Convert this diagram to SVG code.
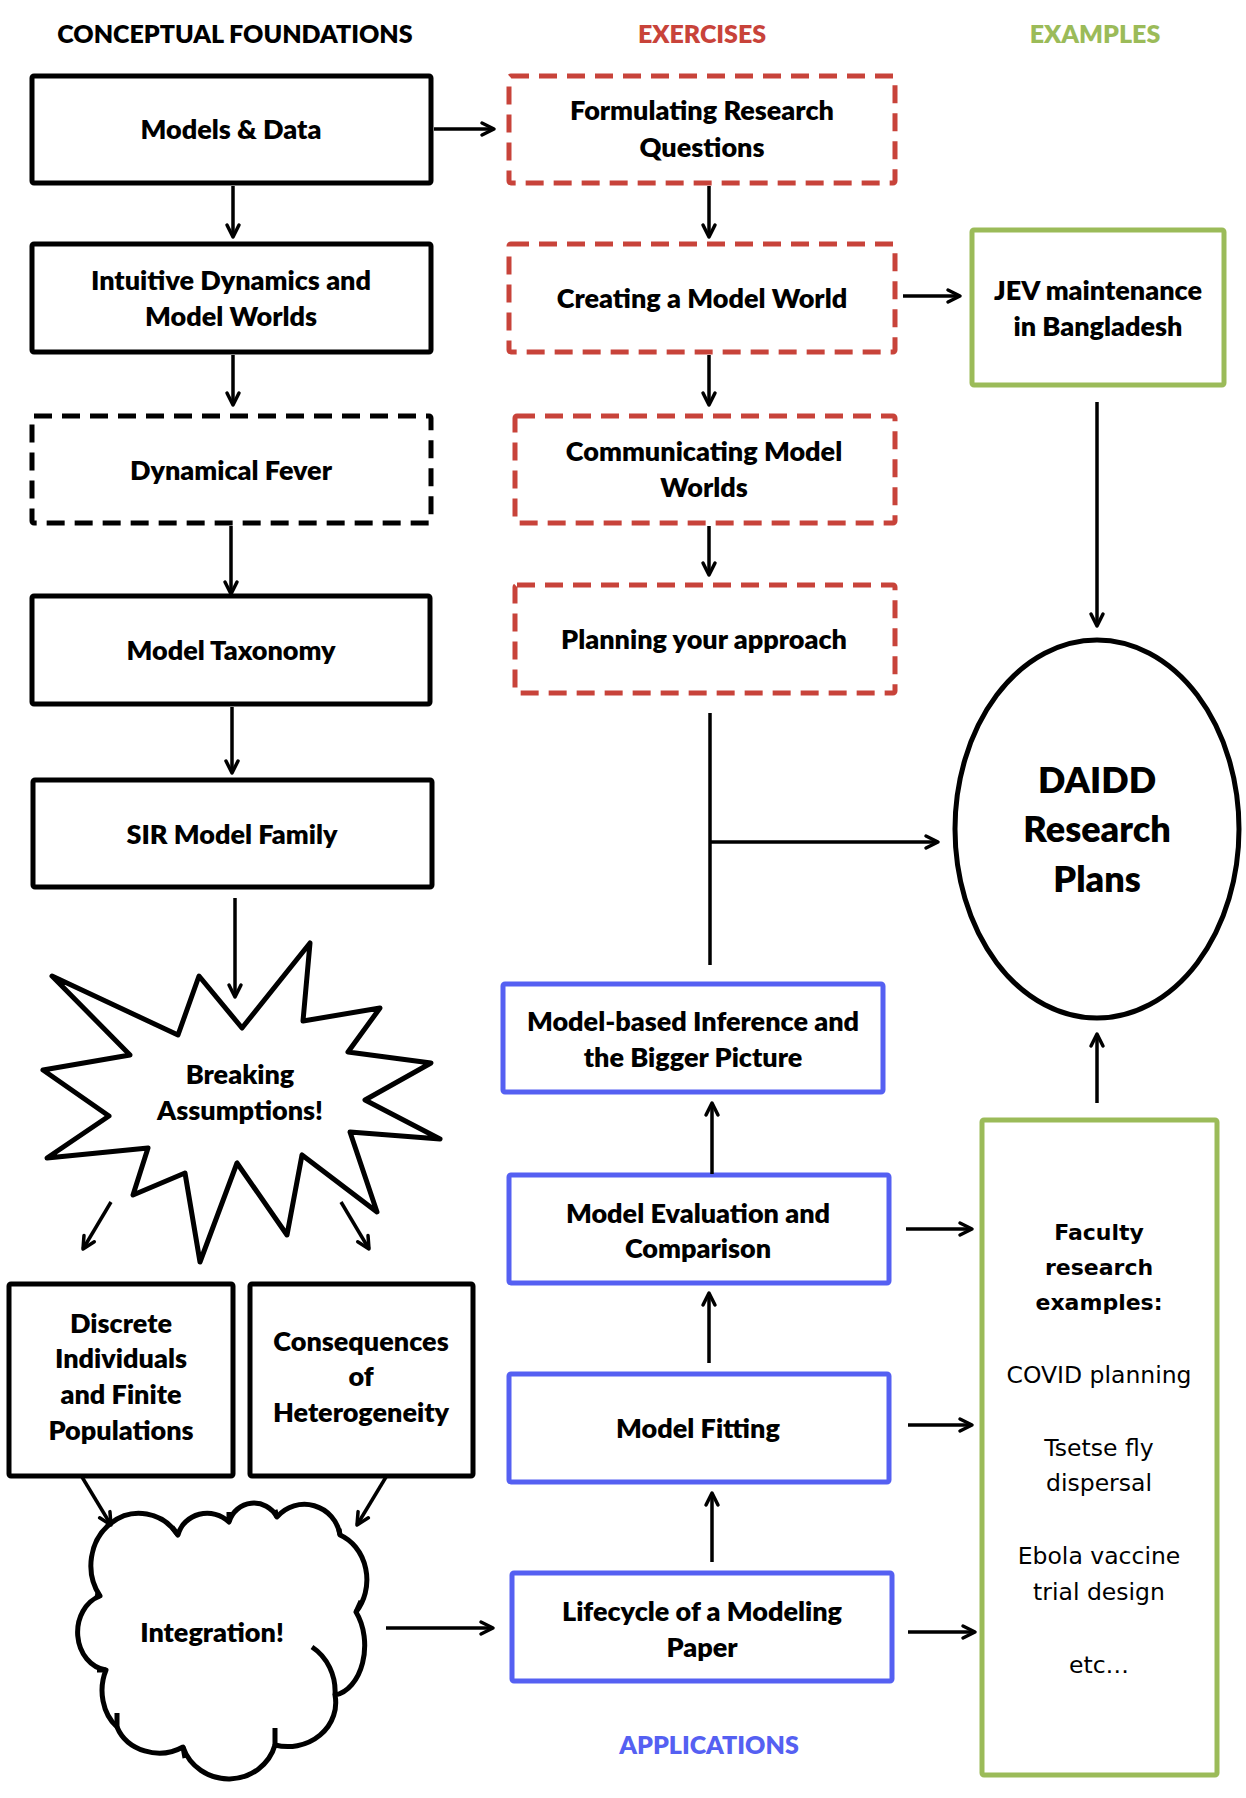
<svg xmlns="http://www.w3.org/2000/svg" width="1246" height="1798" viewBox="0 0 1246 1798">
<defs>
<marker id="ah" viewBox="0 0 14 14" refX="13" refY="7" markerWidth="14" markerHeight="14" markerUnits="userSpaceOnUse" orient="auto" style="overflow:visible"><path d="M1,1 L13,7 L1,13" fill="none" stroke="#000" stroke-width="3.5" stroke-linecap="round" stroke-linejoin="round"/></marker>
<style>
.lbl{font-family:Lato,"Open Sans","Liberation Sans",sans-serif;font-weight:800;font-size:27px;text-anchor:middle;fill:#000}
.hdr{font-family:Lato,"Open Sans","Liberation Sans",sans-serif;font-weight:800;font-size:25px;text-anchor:middle}
.big{font-family:Lato,"Open Sans","Liberation Sans",sans-serif;font-weight:800;font-size:36px;text-anchor:middle;fill:#000}
.fac{font-family:"DejaVu Sans",Verdana,sans-serif;font-size:23.5px;text-anchor:middle;fill:#000}
.facb{font-family:"DejaVu Sans",Verdana,sans-serif;font-weight:bold;font-size:22px;text-anchor:middle;fill:#000}
.bk{fill:#fff;stroke:#000;stroke-width:5}
.bkd{fill:#fff;stroke:#000;stroke-width:5;stroke-dasharray:18 10}
.rd{fill:#fff;stroke:#C8433A;stroke-width:5;stroke-dasharray:18 10}
.gr{fill:#fff;stroke:#9BBB59;stroke-width:5}
.bl{fill:#fff;stroke:#5560F2;stroke-width:5}
.ln{fill:none;stroke:#000;stroke-width:3.5}
.ar{fill:none;stroke:#000;stroke-width:3.5;marker-end:url(#ah)}
.sh{fill:#fff;stroke:#000;stroke-width:5;stroke-linejoin:round;stroke-linecap:round}
.tk{fill:none;stroke:#000;stroke-width:5;stroke-linecap:butt}
</style>
</defs>
<rect width="1246" height="1798" fill="#fff"/>

<g id="headers">
<text class="hdr" x="235" y="43" fill="#000">CONCEPTUAL FOUNDATIONS</text>
<text class="hdr" x="702" y="43" fill="#C8433A">EXERCISES</text>
<text class="hdr" x="1095" y="43" fill="#9BBB59">EXAMPLES</text>
<text class="hdr" x="709" y="1754" fill="#5560F2">APPLICATIONS</text>
</g>

<g id="models-data"><rect class="bk" x="32" y="76" width="399" height="107" rx="2"/><text class="lbl" x="231" y="139">Models &amp; Data</text></g>
<g id="intuitive-dynamics"><rect class="bk" x="32" y="244" width="399" height="108" rx="2"/><text class="lbl" x="231" y="290">Intuitive Dynamics and</text><text class="lbl" x="231" y="326">Model Worlds</text></g>
<g id="dynamical-fever"><rect class="bkd" x="32" y="416" width="399" height="107" rx="2"/><text class="lbl" x="231" y="480">Dynamical Fever</text></g>
<g id="model-taxonomy"><rect class="bk" x="32" y="596" width="398" height="108" rx="2"/><text class="lbl" x="231" y="660">Model Taxonomy</text></g>
<g id="sir-model-family"><rect class="bk" x="33" y="780" width="399" height="107" rx="2"/><text class="lbl" x="232" y="844">SIR Model Family</text></g>

<g id="breaking-assumptions">
<path class="sh" d="M52,976 L178,1035 L199,976 L242,1028 L310,943 L303,1021 L380,1008 L348,1052 L431,1063 L365,1100 L440,1139 L350,1132 L377,1212 L302,1155 L287,1235 L237,1163 L200,1262 L185,1173 L133,1195 L148,1148 L47,1158 L109,1116 L43,1070 L130,1055 Z"/>
<text class="lbl" x="240" y="1084">Breaking</text><text class="lbl" x="240" y="1120">Assumptions!</text>
</g>

<g id="discrete-individuals"><rect class="bk" x="9" y="1284" width="224" height="192" rx="2"/><text class="lbl" x="121" y="1333">Discrete</text><text class="lbl" x="121" y="1368">Individuals</text><text class="lbl" x="121" y="1404">and Finite</text><text class="lbl" x="121" y="1440">Populations</text></g>
<g id="heterogeneity"><rect class="bk" x="250" y="1284" width="223" height="192" rx="2"/><text class="lbl" x="361" y="1351">Consequences</text><text class="lbl" x="361" y="1386">of</text><text class="lbl" x="361" y="1422">Heterogeneity</text></g>

<g id="integration">
<path class="sh" d="M106,1670 A32,38 0 0 1 100,1596 A48,52 0 0 1 178,1535 A30,28 0 0 1 229,1522 A26,26 0 0 1 277,1517 A36,36 0 0 1 340,1535 A42,48 0 0 1 356,1612 A34,50 0 0 1 335,1695 A48,44 0 0 1 275,1745 A48,46 0 0 1 183,1747 A45,40 0 0 1 117,1727 A36,45 0 0 1 106,1670 Z"/>
<path class="tk" d="M312,1647 A48,52 0 0 1 335,1695 M275,1745 L275,1728 M183,1747 L185,1758 M117,1727 L117,1713 M106,1670 L97,1670 M100,1596 L95,1595 M178,1535 L172,1527 M229,1522 L229,1512 M277,1517 L275,1510 M340,1535 L339,1529 M356,1612 L361,1601"/>
<text class="lbl" x="212" y="1642">Integration!</text>
</g>

<g id="formulating-questions"><rect class="rd" x="509" y="76" width="386" height="107" rx="2"/><text class="lbl" x="702" y="120">Formulating Research</text><text class="lbl" x="702" y="157">Questions</text></g>
<g id="creating-model-world"><rect class="rd" x="509" y="244" width="386" height="108" rx="2"/><text class="lbl" x="702" y="308">Creating a Model World</text></g>
<g id="communicating"><rect class="rd" x="515" y="416" width="380" height="107" rx="2"/><text class="lbl" x="704" y="461">Communicating Model</text><text class="lbl" x="704" y="497">Worlds</text></g>
<g id="planning"><rect class="rd" x="515" y="585" width="380" height="108" rx="2"/><text class="lbl" x="704" y="649">Planning your approach</text></g>

<g id="jev"><rect class="gr" x="972" y="230" width="252" height="155" rx="2"/><text class="lbl" x="1098" y="300">JEV maintenance</text><text class="lbl" x="1098" y="336">in Bangladesh</text></g>

<g id="daidd"><ellipse cx="1097" cy="829" rx="142" ry="189" fill="#fff" stroke="#000" stroke-width="5"/><text class="big" x="1097" y="793">DAIDD</text><text class="big" x="1097" y="842">Research</text><text class="big" x="1097" y="892">Plans</text></g>

<g id="inference"><rect class="bl" x="503" y="984" width="380" height="108" rx="2"/><text class="lbl" x="693" y="1031">Model-based Inference and</text><text class="lbl" x="693" y="1067">the Bigger Picture</text></g>
<g id="evaluation"><rect class="bl" x="509" y="1175" width="380" height="108" rx="2"/><text class="lbl" x="698" y="1223">Model Evaluation and</text><text class="lbl" x="698" y="1258">Comparison</text></g>
<g id="fitting"><rect class="bl" x="509" y="1374" width="380" height="108" rx="2"/><text class="lbl" x="698" y="1438">Model Fitting</text></g>
<g id="lifecycle"><rect class="bl" x="512" y="1573" width="380" height="108" rx="2"/><text class="lbl" x="702" y="1621">Lifecycle of a Modeling</text><text class="lbl" x="702" y="1657">Paper</text></g>

<g id="faculty"><rect class="gr" x="982" y="1120" width="235" height="655" rx="2"/>
<text class="facb" x="1099" y="1240">Faculty</text><text class="facb" x="1099" y="1275">research</text><text class="facb" x="1099" y="1310">examples:</text>
<text class="fac" x="1099" y="1383">COVID planning</text>
<text class="fac" x="1099" y="1456">Tsetse fly</text><text class="fac" x="1099" y="1491">dispersal</text>
<text class="fac" x="1099" y="1564">Ebola vaccine</text><text class="fac" x="1099" y="1600">trial design</text>
<text class="fac" x="1099" y="1673">etc…</text>
</g>

<g id="connectors">
<line class="ar" x1="233" y1="186" x2="233" y2="237"/>
<line class="ar" x1="233" y1="355" x2="233" y2="405"/>
<line class="ar" x1="231" y1="526" x2="231" y2="594"/>
<line class="ar" x1="232" y1="707" x2="232" y2="773"/>
<line class="ar" x1="235" y1="898" x2="235" y2="997"/>
<line class="ar" x1="434" y1="129" x2="494" y2="129"/>
<line class="ar" x1="709" y1="186" x2="709" y2="237"/>
<line class="ar" x1="709" y1="355" x2="709" y2="405"/>
<line class="ar" x1="709" y1="526" x2="709" y2="575"/>
<line class="ar" x1="903" y1="296" x2="960" y2="296"/>
<line class="ar" x1="1097" y1="402" x2="1097" y2="626"/>
<line class="ln" x1="710" y1="713" x2="710" y2="965"/>
<line class="ar" x1="710" y1="842" x2="938" y2="842"/>
<line class="ar" x1="712" y1="1174" x2="712" y2="1103"/>
<line class="ar" x1="709" y1="1363" x2="709" y2="1293"/>
<line class="ar" x1="712" y1="1562" x2="712" y2="1493"/>
<line class="ar" x1="906" y1="1229" x2="972" y2="1229"/>
<line class="ar" x1="908" y1="1425" x2="972" y2="1425"/>
<line class="ar" x1="908" y1="1632" x2="975" y2="1632"/>
<line class="ar" x1="1097" y1="1103" x2="1097" y2="1034"/>
<line class="ar" x1="111" y1="1202" x2="83" y2="1249"/>
<line class="ar" x1="341" y1="1202" x2="369" y2="1249"/>
<line class="ar" x1="82" y1="1477" x2="111" y2="1525"/>
<line class="ar" x1="386" y1="1477" x2="357" y2="1525"/>
<line class="ar" x1="386" y1="1628" x2="493" y2="1628"/>
</g>
</svg>
